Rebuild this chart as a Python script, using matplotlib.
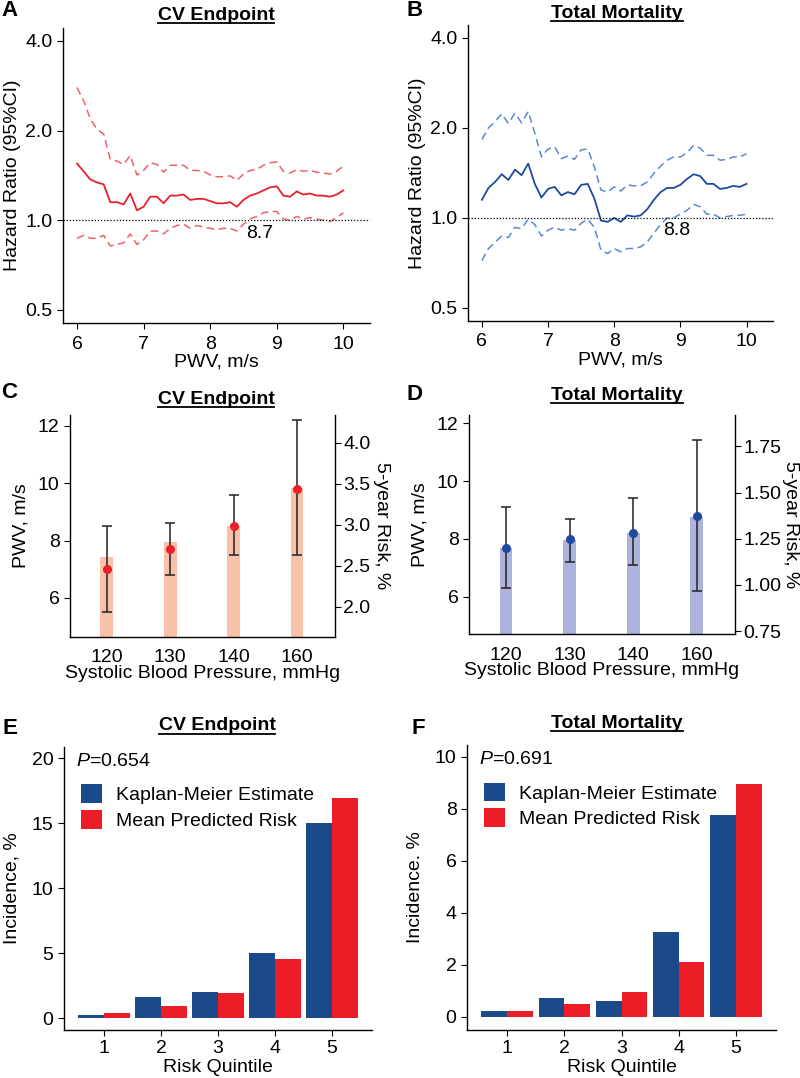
import numpy as np
import matplotlib
matplotlib.use("Agg")
import matplotlib.pyplot as plt
from matplotlib.ticker import NullLocator, FixedLocator, FixedFormatter
from matplotlib.lines import Line2D

plt.rcParams['font.family'] = ['Liberation Sans', 'DejaVu Sans']
plt.rcParams['mathtext.fontset'] = 'custom'
plt.rcParams['mathtext.rm'] = 'Liberation Sans'
plt.rcParams['mathtext.it'] = 'Liberation Sans:italic'
plt.rcParams['mathtext.bf'] = 'Liberation Sans:bold'

# ---------------- data ----------------
pwv_grid = [6.0, 6.1, 6.2, 6.3, 6.4, 6.5, 6.6, 6.7, 6.8, 6.9,
            7.0, 7.1, 7.2, 7.3, 7.4, 7.5, 7.6, 7.7, 7.8, 7.9,
            8.0, 8.1, 8.2, 8.3, 8.4, 8.5, 8.6, 8.7, 8.8, 8.9,
            9.0, 9.1, 9.2, 9.3, 9.4, 9.5, 9.6, 9.7, 9.8, 9.9, 10.0]

cv_hr = [1.55, 1.46, 1.37, 1.34, 1.32, 1.15, 1.15, 1.13, 1.23, 1.08,
         1.11, 1.20, 1.20, 1.14, 1.21, 1.21, 1.22, 1.17, 1.18, 1.18,
         1.16, 1.14, 1.14, 1.15, 1.11, 1.17, 1.21, 1.23, 1.26, 1.29,
         1.30, 1.21, 1.20, 1.25, 1.22, 1.23, 1.21, 1.21, 1.20, 1.22, 1.26]
cv_hi = [2.79, 2.52, 2.19, 2.02, 1.95, 1.60, 1.58, 1.54, 1.65, 1.42,
         1.47, 1.56, 1.54, 1.45, 1.53, 1.53, 1.53, 1.47, 1.47, 1.46,
         1.42, 1.40, 1.40, 1.41, 1.36, 1.43, 1.47, 1.48, 1.53, 1.56,
         1.57, 1.46, 1.44, 1.48, 1.46, 1.47, 1.45, 1.44, 1.43, 1.46, 1.52]
cv_lo = [0.87, 0.89, 0.87, 0.87, 0.89, 0.82, 0.83, 0.84, 0.90, 0.83,
         0.86, 0.92, 0.92, 0.90, 0.94, 0.96, 0.97, 0.94, 0.96, 0.95,
         0.94, 0.93, 0.94, 0.94, 0.92, 0.97, 1.01, 1.03, 1.06, 1.07,
         1.07, 1.01, 1.00, 1.03, 1.01, 1.02, 1.01, 1.00, 0.99, 1.02, 1.06]

tm_hr = [1.15, 1.26, 1.32, 1.40, 1.34, 1.45, 1.39, 1.52, 1.30, 1.17,
         1.25, 1.27, 1.19, 1.22, 1.20, 1.29, 1.30, 1.16, 0.98, 0.97,
         1.00, 0.97, 1.02, 1.01, 1.02, 1.07, 1.15, 1.22, 1.26, 1.26,
         1.29, 1.35, 1.40, 1.38, 1.30, 1.30, 1.25, 1.26, 1.28, 1.27, 1.30]
tm_hi = [1.83, 2.00, 2.10, 2.23, 2.07, 2.24, 2.08, 2.27, 1.92, 1.60,
         1.70, 1.73, 1.58, 1.61, 1.57, 1.69, 1.70, 1.48, 1.24, 1.22,
         1.27, 1.23, 1.29, 1.28, 1.28, 1.32, 1.41, 1.49, 1.56, 1.60,
         1.60, 1.65, 1.75, 1.71, 1.62, 1.62, 1.56, 1.57, 1.60, 1.60, 1.64]
tm_lo = [0.72, 0.79, 0.83, 0.87, 0.86, 0.93, 0.92, 0.99, 0.95, 0.87,
         0.91, 0.93, 0.91, 0.92, 0.91, 0.96, 0.99, 0.93, 0.78, 0.76,
         0.79, 0.77, 0.79, 0.79, 0.80, 0.83, 0.89, 0.95, 1.00, 1.00,
         1.03, 1.06, 1.11, 1.09, 1.03, 1.03, 1.00, 1.01, 1.02, 1.02, 1.03]

cv_threshold = 8.7
tm_threshold = 8.8

sbp_labels = ['120', '130', '140', '160']
cv_risk = [2.61, 2.79, 2.99, 3.45]
cv_pwv = [7.0, 7.7, 8.5, 9.8]
cv_pwv_lo = [5.5, 6.8, 7.5, 7.5]
cv_pwv_hi = [8.5, 8.6, 9.6, 12.2]

tm_risk = [1.20, 1.245, 1.28, 1.37]
tm_pwv = [7.7, 8.0, 8.2, 8.8]
tm_pwv_lo = [6.3, 7.2, 7.1, 6.2]
tm_pwv_hi = [9.1, 8.7, 9.4, 11.4]

quintiles = [1, 2, 3, 4, 5]
cv_km = [0.2, 1.6, 2.0, 5.0, 15.0]
cv_pred = [0.35, 0.9, 1.9, 4.55, 16.9]
cv_p = '0.654'
tm_km = [0.22, 0.72, 0.62, 3.27, 7.78]
tm_pred = [0.22, 0.5, 0.98, 2.12, 8.95]
tm_p = '0.691'

# ---------------- style ----------------
RED = '#E8212B'
RED_D = '#F0626A'
BLUE = '#1F4AA0'
BLUE_D = '#5D87CF'
SALMON = '#F8C1AA'
LAV = '#AEB3DD'
KM_BLUE = '#1B4A8A'
PRED_RED = '#EC1D27'
FS = 14

W, H = 800, 1078
fig = plt.figure(figsize=(W / 100, H / 100), dpi=100)


def px_axes(l, t, r, b):
    return fig.add_axes([l / W, 1 - b / H, (r - l) / W, (b - t) / H])


def style(ax, right=False):
    ax.spines['top'].set_visible(False)
    if not right:
        ax.spines['right'].set_visible(False)
    for s in ax.spines.values():
        s.set_linewidth(1.0)
    ax.tick_params(labelsize=FS, length=4, width=0.8, direction='out')


titles = []


def title(xc, yc, s):
    t = fig.text(xc / W, 1 - yc / H, s, ha='center', va='center',
                 fontsize=14, fontweight='bold')
    titles.append(t)


def letter(x, y, s):
    fig.text(x / W, 1 - y / H, s, ha='left', va='center', fontsize=16,
             fontweight='bold')


# ---------------- A & B ----------------
def hr_panel(ax, hr, lo, hi, c, cd, thr, thr_xy):
    ax.set_yscale('log')
    ax.plot(pwv_grid, hi, color=cd, lw=1.1, ls=(0, (5, 3)))
    ax.plot(pwv_grid, lo, color=cd, lw=1.1, ls=(0, (5, 3)))
    ax.plot(pwv_grid, hr, color=c, lw=1.3)
    ax.axhline(1.0, color='black', lw=0.9, ls=(0, (1, 1.5)))
    ax.text(thr_xy[0], thr_xy[1], f'{thr}', fontsize=FS, ha='center',
            va='center')
    ax.set_xlim(5.79, 10.4)
    ax.set_ylim(0.452, 4.42)
    ax.yaxis.set_major_locator(FixedLocator([0.5, 1.0, 2.0, 4.0]))
    ax.yaxis.set_major_formatter(FixedFormatter(['0.5', '1.0', '2.0', '4.0']))
    ax.yaxis.set_minor_locator(NullLocator())
    ax.set_xticks([6, 7, 8, 9, 10])
    ax.set_xlabel('PWV, m/s', fontsize=FS, labelpad=1)
    ax.set_ylabel('Hazard Ratio (95%CI)', fontsize=FS, labelpad=3)
    style(ax)
    ax.tick_params(axis='x', pad=5)


axA = px_axes(63, 28, 370, 323)
hr_panel(axA, cv_hr, cv_lo, cv_hi, RED, RED_D, cv_threshold, (8.75, 0.905))
axB = px_axes(468, 25, 773, 321)
hr_panel(axB, tm_hr, tm_lo, tm_hi, BLUE, BLUE_D, tm_threshold, (8.95, 0.905))

# ---------------- C & D ----------------
def sbp_panel(ax, risk, pwv, lo, hi, barc, ptc, rlim, rticks, rfmt, llim,
              rpad):
    ax2 = ax.twinx()
    xs = np.arange(len(sbp_labels))
    ax2.bar(xs, risk, width=0.2, color=barc, bottom=0)
    ax2.set_ylim(*rlim)
    ax2.set_yticks(rticks)
    ax2.set_yticklabels([rfmt.format(v) for v in rticks])
    ax2.set_ylabel('5-year Risk, %', fontsize=FS, rotation=270, labelpad=rpad)
    ax.set_zorder(ax2.get_zorder() + 1)
    ax.patch.set_visible(False)
    yerr = [np.array(pwv) - np.array(lo), np.array(hi) - np.array(pwv)]
    ax.errorbar(xs, pwv, yerr=yerr, fmt='none', ecolor='#222222',
                elinewidth=1.1, capsize=3.5, capthick=1.1)
    ax.plot(xs, pwv, 'o', color=ptc, ms=5.5, zorder=5)
    ax.set_xlim(-0.58, 3.6)
    ax.set_ylim(*llim)
    ax.set_yticks([6, 8, 10, 12])
    ax.set_xticks(xs)
    ax.set_xticklabels(sbp_labels)
    ax.set_xlabel('Systolic Blood Pressure, mmHg', fontsize=FS, labelpad=-1)
    ax.set_ylabel('PWV, m/s', fontsize=FS, labelpad=6)
    style(ax)
    style(ax2, right=True)
    ax2.tick_params(axis='y', pad=2)
    ax.tick_params(axis='x', length=0, pad=9)
    ax2.spines['left'].set_visible(False)
    ax2.spines['bottom'].set_visible(False)
    ax.spines['right'].set_visible(False)


axC = px_axes(70, 415, 335, 637)
sbp_panel(axC, cv_risk, cv_pwv, cv_pwv_lo, cv_pwv_hi, SALMON, RED,
          (1.634, 4.34), [2.0, 2.5, 3.0, 3.5, 4.0], '{:.1f}', (4.64, 12.38),
          14)
axD = px_axes(469, 415, 735, 634)
sbp_panel(axD, tm_risk, tm_pwv, tm_pwv_lo, tm_pwv_hi, LAV, BLUE,
          (0.734, 1.92), [0.75, 1.00, 1.25, 1.50, 1.75], '{:.2f}', (4.72, 12.28),
          13)

# ---------------- E & F ----------------
def calib_panel(ax, km, pred, p, ylim, yticks, ylabel):
    q = np.array(quintiles)
    ax.bar(q - 0.225, km, width=0.45, color=KM_BLUE, label='Kaplan-Meier Estimate')
    ax.bar(q + 0.225, pred, width=0.45, color=PRED_RED, label='Mean Predicted Risk')
    ax.set_xlim(0.3, 5.7)
    ax.set_ylim(*ylim)
    ax.set_yticks(yticks)
    ax.set_xticks(quintiles)
    ax.set_xlabel('Risk Quintile', fontsize=FS, labelpad=1)
    ax.set_ylabel(ylabel, fontsize=FS, labelpad=8)
    ax.text(0.04, 0.95, r'$\mathit{P}$=' + p, transform=ax.transAxes,
            fontsize=FS, ha='left', va='center')
    ax.legend(loc='upper left', bbox_to_anchor=(0.03, 0.895), frameon=False,
              fontsize=FS, handlelength=1.1, handleheight=1.1,
              handletextpad=0.7, labelspacing=0.3, borderaxespad=0)
    style(ax)


axE = px_axes(64, 747, 372, 1030)
calib_panel(axE, cv_km, cv_pred, cv_p, (-0.92, 20.85), [0, 5, 10, 15, 20],
            'Incidence, %')
axF = px_axes(467, 745, 776, 1030)
calib_panel(axF, tm_km, tm_pred, tm_p, (-0.5, 10.46), [0, 2, 4, 6, 8, 10],
            'Incidence. %')

# ---------------- titles & letters ----------------
title(216, 15, 'CV Endpoint')
title(617, 13, 'Total Mortality')
title(216, 399, 'CV Endpoint')
title(617, 396, 'Total Mortality')
title(217, 726, 'CV Endpoint')
title(617, 723, 'Total Mortality')

letter(1, 10, 'A')
letter(407, 10, 'B')
letter(1, 392, 'C')
letter(407, 395, 'D')
letter(2, 728, 'E')
letter(411, 728, 'F')

fig.canvas.draw()
r = fig.canvas.get_renderer()
for t in titles:
    bb = t.get_window_extent(r)
    x0, x1 = bb.x0 / W, bb.x1 / W
    y = (bb.y0 + 1.0) / H
    fig.add_artist(Line2D([x0, x1], [y, y], color='black', lw=1.3,
                          transform=fig.transFigure))

fig.savefig('out.png', dpi=100)
